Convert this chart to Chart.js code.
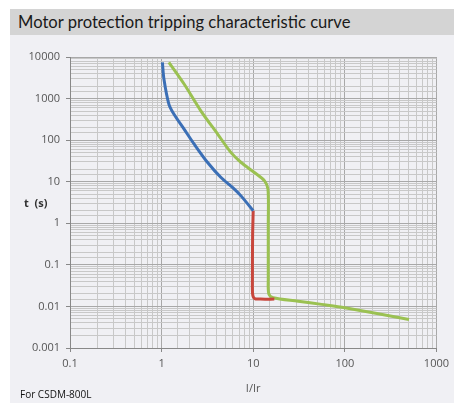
<!DOCTYPE html>
<html>
<head>
<meta charset="utf-8">
<script src="https://cdn.jsdelivr.net/npm/chart.js@4/dist/chart.umd.min.js"></script>
<style>
  html, body { margin: 0; padding: 0; background: #fff; }
  #panel { position: absolute; left: 10px; top: 9px; width: 444px; height: 394px; background: #f0f0f4; }
  #title { position: absolute; left: 10px; top: 9px; width: 444px; height: 26px; background: #d4d4d4;
    font-family: Lato, "Open Sans", sans-serif; font-size: 16.6px; color: #1a1a1a; line-height: 26px; box-sizing: border-box; padding-left: 8px; }
  #ylab { position: absolute; left: 24px; top: 195px; font-family: "Open Sans", sans-serif; font-size: 11px; font-weight: bold; color: #333; }
  #note { position: absolute; left: 20px; top: 387px; font-family: "Open Sans", sans-serif; font-size: 10px; color: #111; }
  #wrap { position: absolute; left: 0; top: 0; width: 454px; height: 403px; }
</style>
</head>
<body>
<div id="panel"></div>
<div id="title">Motor protection tripping characteristic curve</div>
<div id="wrap"><canvas id="myChart"></canvas></div>
<div id="ylab">t&nbsp;&nbsp;(s)</div>
<div id="note">For CSDM-800L</div>
<script>
// I/Ir vs t(s)
const blue_x = [1.02, 1.06, 1.2, 1.36, 1.76, 2.27, 3.18, 4.45, 5.98, 7.4, 10];
const blue_y = [7450, 2950, 736, 424, 184, 80, 29, 12.6, 7.2, 4.5, 2];

const red_x = [10, 9.85, 9.8, 9.85, 10.3, 12, 17];
const red_y = [2, 0.5, 0.05, 0.02, 0.0155, 0.015, 0.015];

const green_x = [1.2, 1.76, 2.68, 4.09, 5.73, 7.38, 10.3, 13.3, 14.5, 14.6, 14.6, 14.8, 16.5, 31, 55.8, 100, 502];
const green_y = [7450, 2240, 508, 140, 50, 29, 16.7, 10.5, 6.6, 1, 0.05, 0.02, 0.0162, 0.0134, 0.0112, 0.0093, 0.00486];

const xTicks = [0.1, 1, 10, 100, 1000];
const yTicks = [0.001, 0.01, 0.1, 1, 10, 100, 1000, 10000];

function pts(xs, ys) {
  return xs.map((x, i) => ({ x: x, y: ys[i] }));
}

function isMajor(v) {
  const l = Math.log10(v);
  return Math.abs(l - Math.round(l)) < 1e-6;
}

const font = { family: '"Open Sans", sans-serif', size: 11 };

const ctx = document.getElementById('myChart').getContext('2d');
const myChart = new Chart(ctx, {
  type: 'line',
  data: {
    datasets: [
      { data: pts(blue_x, blue_y), borderColor: '#3b6fb6', borderWidth: 3, tension: 0.3 },
      { data: pts(red_x, red_y), borderColor: '#c8463c', borderWidth: 3, tension: 0.3 },
      { data: pts(green_x, green_y), borderColor: '#9bc152', borderWidth: 3, tension: 0.3 }
    ]
  },
  options: {
    responsive: true,
    maintainAspectRatio: false,
    animation: false,
    elements: { point: { radius: 0 } },
    layout: { padding: { left: 0, right: 10, top: 57, bottom: 8 } },
    plugins: { legend: { display: false }, tooltip: { enabled: false } },
    scales: {
      x: {
        type: 'logarithmic',
        min: 0.1,
        max: 1000,
        grid: {
          color: c => isMajor(c.tick.value) ? '#a8a8a8' : '#c8c8c8',
          tickColor: c => isMajor(c.tick.value) ? '#888' : 'rgba(0,0,0,0)',
          tickLength: 4
        },
        border: { color: '#888' },
        ticks: {
          autoSkip: false,
          maxRotation: 0,
          color: '#555',
          font: font,
          padding: 5,
          callback: v => xTicks.includes(v) ? String(v) : ''
        },
        title: { display: true, text: 'I/Ir', color: '#555', font: font, padding: { top: 2, bottom: 0 } },
        afterFit: s => { s.height = 47; }
      },
      y: {
        type: 'logarithmic',
        min: 0.001,
        max: 10000,
        grid: {
          color: c => isMajor(c.tick.value) ? '#a8a8a8' : '#c8c8c8',
          tickColor: c => isMajor(c.tick.value) ? '#888' : 'rgba(0,0,0,0)',
          tickLength: 4
        },
        border: { color: '#888' },
        ticks: {
          autoSkip: false,
          color: '#555',
          font: font,
          padding: 6,
          callback: v => yTicks.includes(v) ? String(v) : ''
        },
        afterFit: s => { s.width = 70; }
      }
    }
  }
});
</script>
</body>
</html>
